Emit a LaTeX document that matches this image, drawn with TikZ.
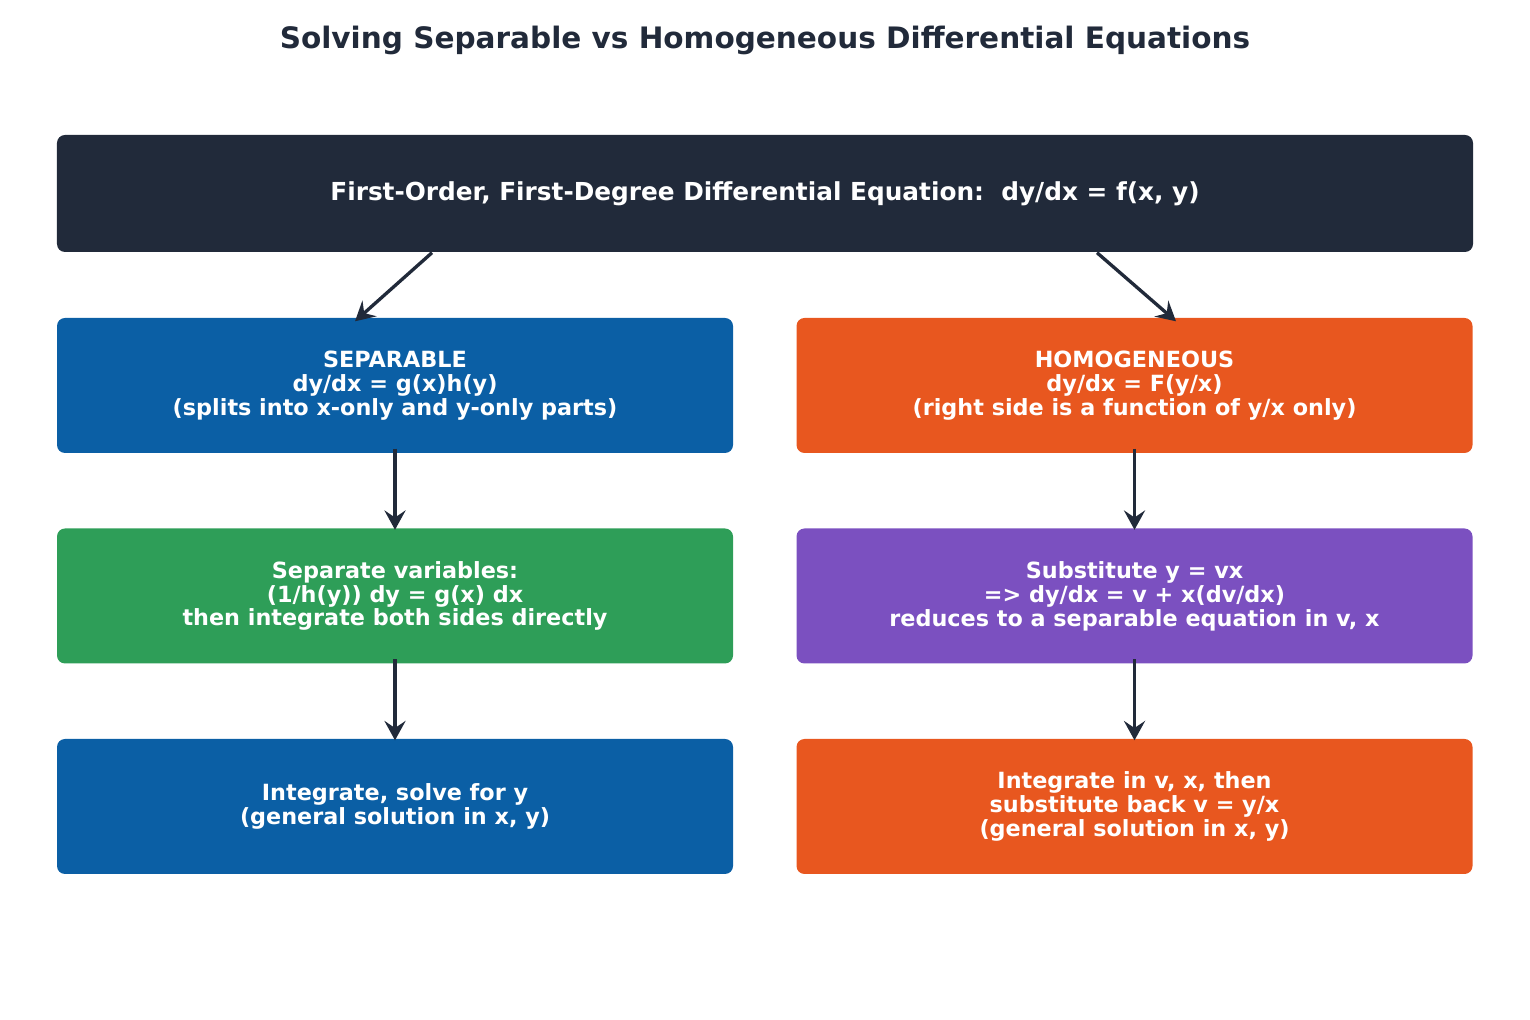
\documentclass[tikz,border=0pt]{standalone}
\usepackage{fontspec}
\setmainfont{DejaVu Sans}
\usetikzlibrary{arrows.meta}

\definecolor{inkdark}{HTML}{212A3A}
\definecolor{sepblue}{HTML}{0B5FA5}
\definecolor{homorange}{HTML}{E8571F}
\definecolor{stepgreen}{HTML}{2E9E58}
\definecolor{steppurple}{HTML}{7B50C0}

\begin{document}
\begin{tikzpicture}[
    every node/.style={font=\bfseries},
    box/.style={rounded corners=0.08cm, text=white, align=center,
      minimum width=6.76cm, minimum height=1.35cm, inner sep=0pt,
      font=\bfseries\fontsize{6.35}{6.8}\selectfont},
    flow/.style={draw=inkdark, line width=0.95pt, -{Stealth[length=5.5pt,width=6pt,inset=2pt]}}
  ]
  \useasboundingbox (0,0) rectangle (15.3,-10.2);

  % title
  \node[text=inkdark, font=\bfseries\fontsize{8.4}{10}\selectfont] (title) at (7.65,-0.40)
    {Solving Separable vs Homogeneous Differential Equations};

  % top equation
  \node[box, fill=inkdark, minimum width=14.16cm, minimum height=1.17cm,
    font=\bfseries\fontsize{7.05}{8}\selectfont] (ode) at (7.65,-1.935)
    {First-Order, First-Degree Differential Equation:\ \ dy/dx = f(x, y)};

  % left column
  \node[box, fill=sepblue] (sep) at (3.95,-3.855)
    {SEPARABLE\\dy/dx = g(x)h(y)\\(splits into x-only and y-only parts)};
  \node[box, fill=stepgreen] (sepvar) at (3.95,-5.96)
    {Separate variables:\\(1/h(y)) dy = g(x) dx\\then integrate both sides directly};
  \node[box, fill=sepblue] (sepsol) at (3.95,-8.065)
    {Integrate, solve for y\\(general solution in x, y)};

  % right column
  \node[box, fill=homorange] (hom) at (11.345,-3.855)
    {HOMOGENEOUS\\dy/dx = F(y/x)\\(right side is a function of y/x only)};
  \node[box, fill=steppurple] (homsub) at (11.345,-5.96)
    {Substitute y = vx\\=> dy/dx = v + x(dv/dx)\\reduces to a separable equation in v, x};
  \node[box, fill=homorange] (homsol) at (11.345,-8.065)
    {Integrate in v, x, then\\substitute back v = y/x\\(general solution in x, y)};

  % connectors
  \coordinate (odeL) at ([xshift=-3.33cm]ode.south);
  \coordinate (odeR) at ([xshift=3.32cm]ode.south);
  \coordinate (sepIn) at ([xshift=-0.4cm,yshift=-0.04cm]sep.north);
  \coordinate (homIn) at ([xshift=0.415cm,yshift=-0.04cm]hom.north);
  \draw[flow] (odeL) -- (sepIn);
  \draw[flow] (odeR) -- (homIn);
  \draw[flow] ([yshift=0.05cm]sep.south) -- ([yshift=-0.02cm]sepvar.north);
  \draw[flow] ([yshift=0.05cm]sepvar.south) -- ([yshift=-0.02cm]sepsol.north);
  \draw[flow] ([yshift=0.05cm]hom.south) -- ([yshift=-0.02cm]homsub.north);
  \draw[flow] ([yshift=0.05cm]homsub.south) -- ([yshift=-0.02cm]homsol.north);
\end{tikzpicture}
\end{document}
